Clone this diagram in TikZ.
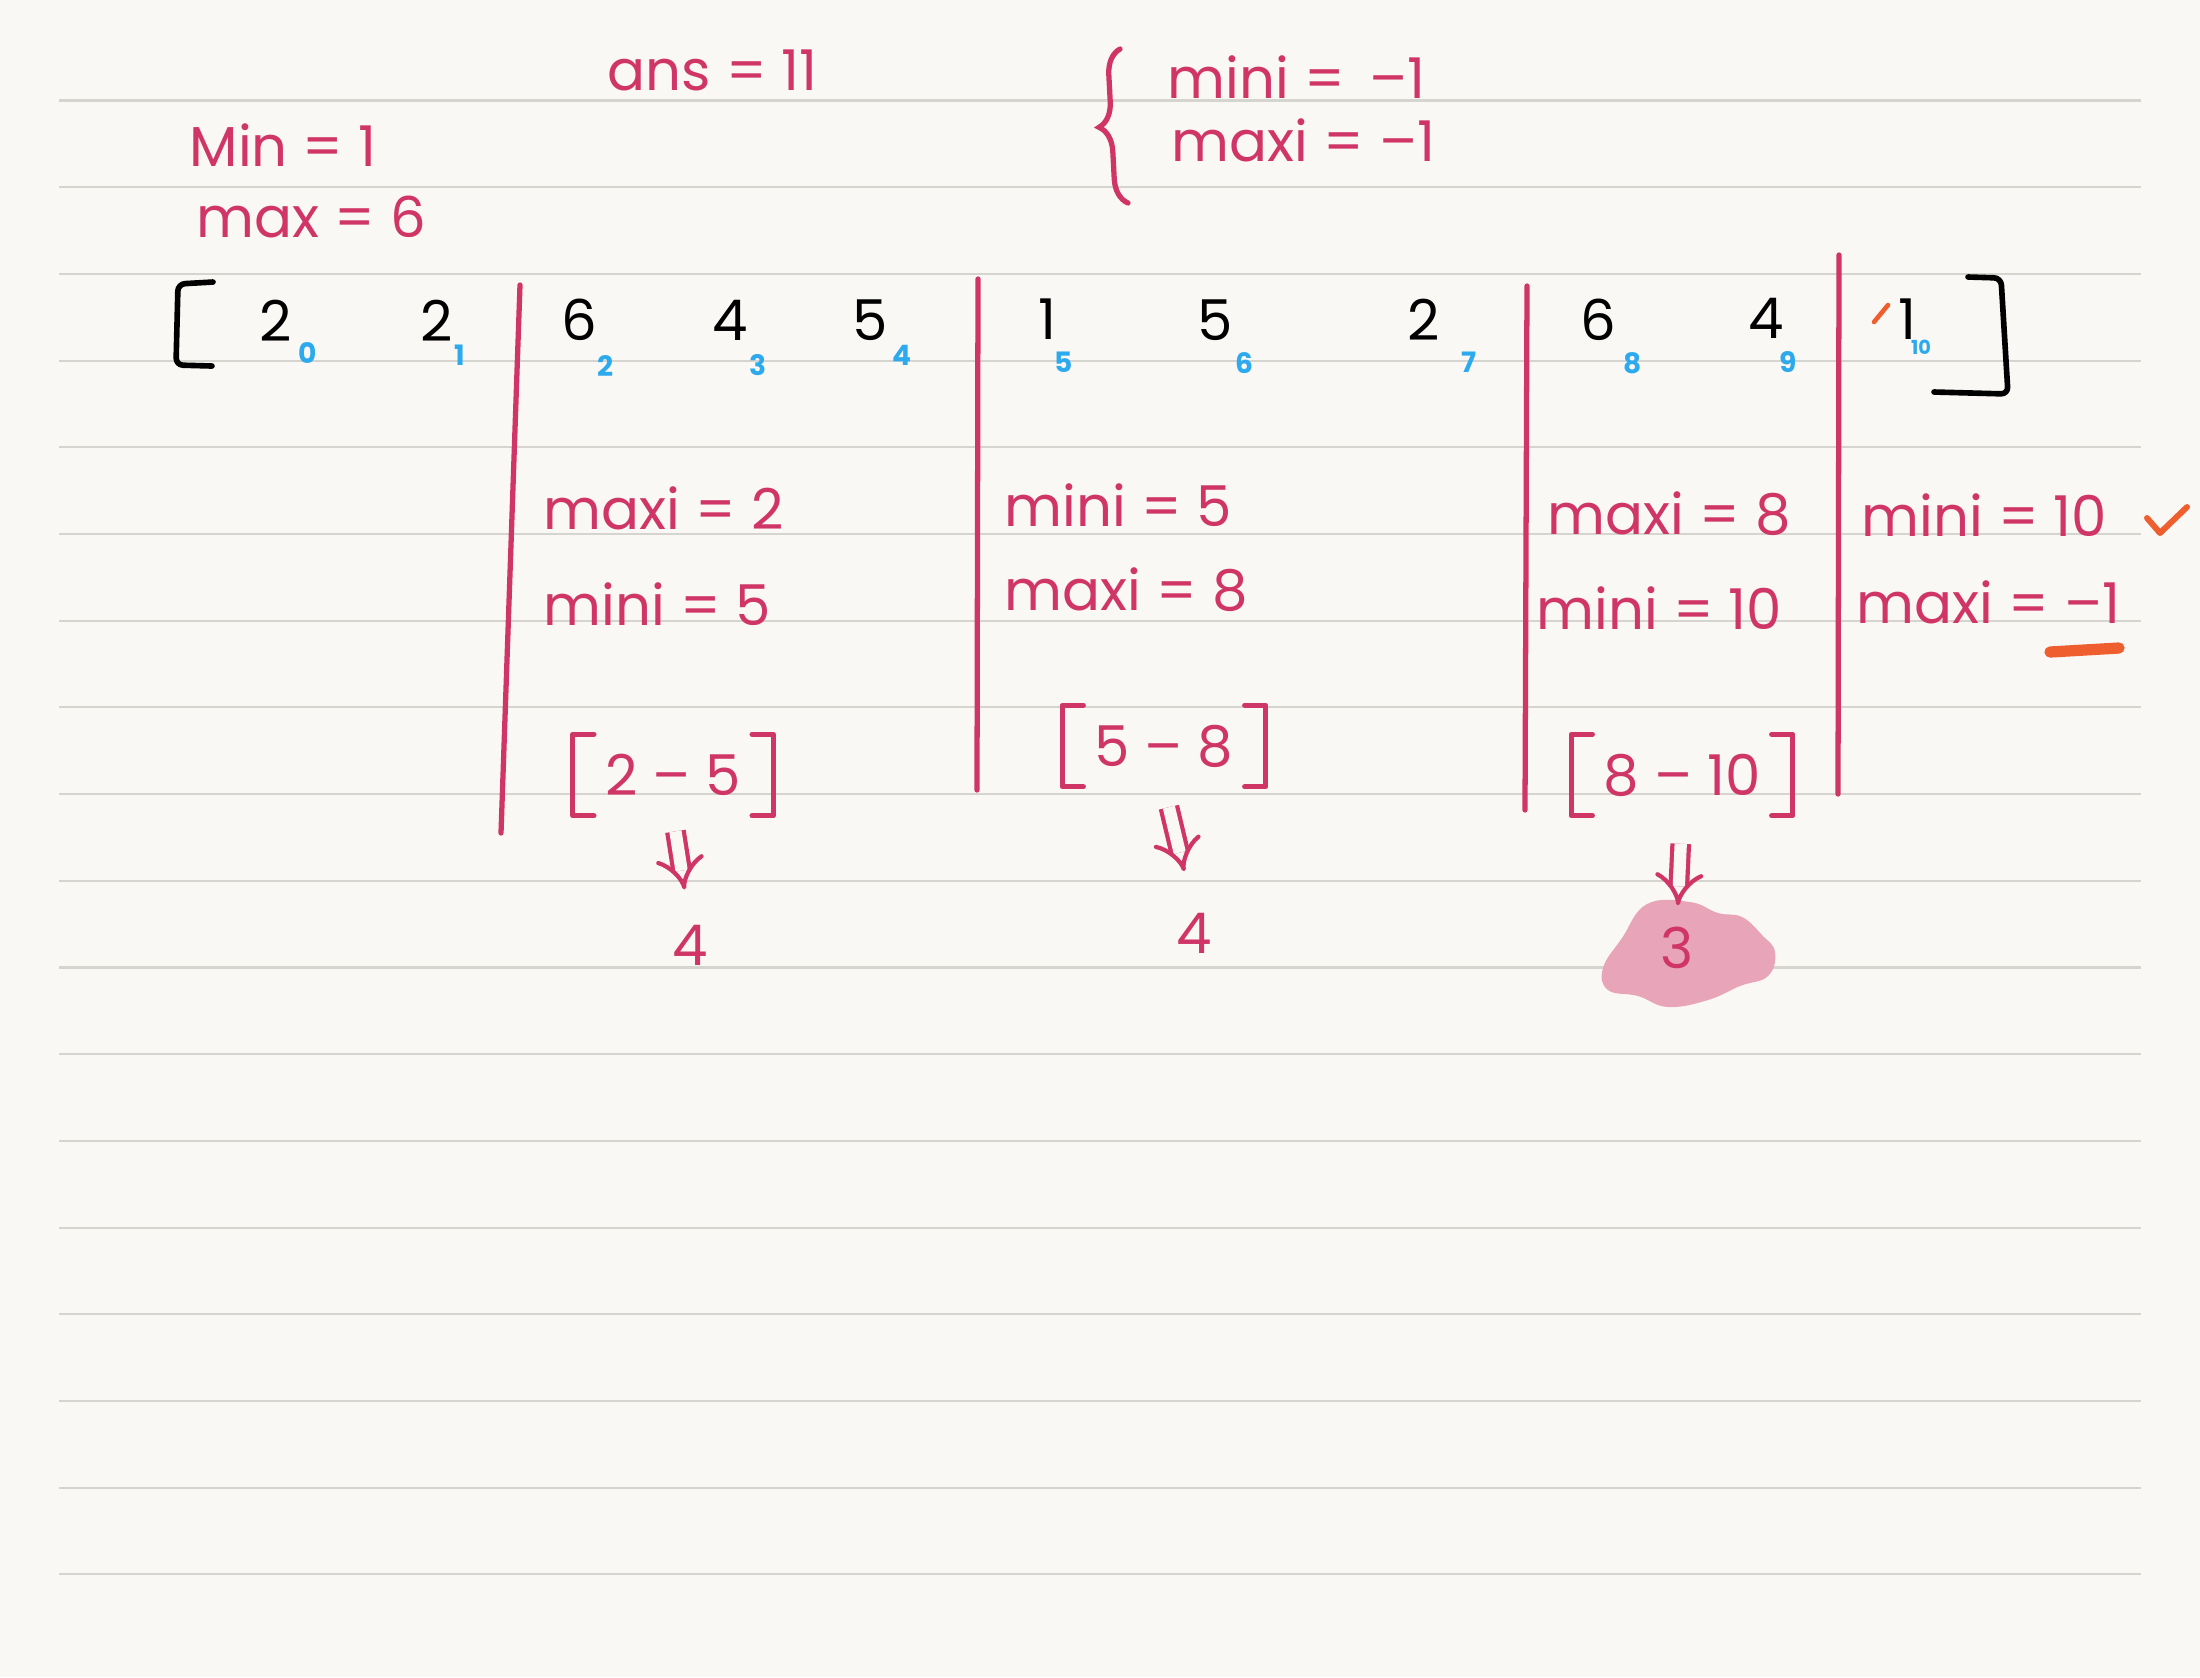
\documentclass[tikz,border=0pt]{standalone}
\usepackage{fontspec}
\setmainfont{Poppins}
\usetikzlibrary{arrows.meta,decorations.pathreplacing}
\definecolor{paper}{HTML}{FAF8F4}
\definecolor{rulec}{HTML}{D6D4CF}
\definecolor{ink}{HTML}{D03568}
\definecolor{blueink}{HTML}{2DA9EE}
\definecolor{orangeink}{HTML}{EE5E2E}
\definecolor{blobc}{HTML}{E8A5BA}
\begin{document}
\begin{tikzpicture}[x=0.1mm,y=-0.1mm,
  pinktext/.style={text=ink, font=\fontsize{16}{18}\selectfont, inner sep=0pt, anchor=west},
  digit/.style={text=black, font=\fontsize{16}{18}\selectfont, inner sep=0pt},
  idx/.style={text=blueink, font=\bfseries\fontsize{8}{9}\selectfont, inner sep=0pt},
  rangebox/.style={text=ink, font=\fontsize{16}{18}\selectfont, inner xsep=9pt, inner ysep=0pt, minimum height=8mm},
  brk/.style={draw=ink, line width=1.5pt, line cap=round, line join=round},
  arrbrk/.style={draw=black, line width=1.6pt, line cap=round, line join=round, rounded corners=2pt},
  divider/.style={draw=ink, line width=1.5pt, line cap=round},
  dbl/.style={draw=ink, line width=1.2pt, double=paper, double distance=3.5pt, -{Implies[scale=1.4]}},
  orangestroke/.style={draw=orangeink, line cap=round, line join=round},
]
\useasboundingbox (0,0) rectangle (2200,1677);
\fill[paper] (0,0) rectangle (2200,1677);
\foreach \k in {0,...,17}
  \draw[rulec, line width=0.6pt] (59,{100.5+86.7*\k}) -- (2141,{100.5+86.7*\k});

% top notes
\node[pinktext] (ans) at (607,70) {ans = 11};
\node[pinktext] (tmini) at (1167,77) {mini = \,–1};
\node[pinktext] (tmaxi) at (1171,140) {maxi = –1};
\node[pinktext] (gmin) at (189,145) {Min = 1};
\node[pinktext] (gmax) at (196,217) {max = 6};
\coordinate (brb) at (1128,203);
\coordinate (brt) at (1120,49);
\draw[draw=ink, line width=1.5pt, line cap=round, decorate, decoration={brace, amplitude=2.5mm}] (brb) -- (brt);

% array
\draw[arrbrk] (213,282) -- (178,284) -- (176,365) -- (212,366);
\draw[arrbrk] (1968,277) -- (2001,278) -- (2008,394) -- (1934,392);
\node[digit] (v0) at (276,321) {2};
\node[digit] (v1) at (437,321) {2};
\node[digit] (v2) at (579,320) {6};
\node[digit] (v3) at (730,320) {4};
\node[digit] (v4) at (870,320) {5};
\node[digit] (v5) at (1047,319) {1};
\node[digit] (v6) at (1215,320) {5};
\node[digit] (v7) at (1424,320) {2};
\node[digit] (v8) at (1598,320) {6};
\node[digit] (v9) at (1766,318) {4};
\node[digit] (v10) at (1907,319) {1};
\node[idx] (i0) at (308,353) {0};
\node[idx] (i1) at (460,355) {1};
\node[idx] (i2) at (606,366) {2};
\node[idx] (i3) at (758,365) {3};
\node[idx] (i4) at (902,355) {4};
\node[idx] (i5) at (1064,362) {5};
\node[idx] (i6) at (1244,363) {6};
\node[idx] (i7) at (1469,362) {7};
\node[idx] (i8) at (1633,363) {8};
\node[idx] (i9) at (1788,362) {9};
\node[idx, font=\bfseries\fontsize{5.5}{6}\selectfont] (i10) at (1921,347) {10};
\draw[orangestroke, line width=1.3pt] (1874,322) -- (1888,305);

% dividers
\draw[divider] (520,285) -- (501,833);
\draw[divider] (978,279) -- (977,790);
\draw[divider] (1527,286) -- (1525,810);
\draw[divider] (1839,255) -- (1838,794);

% section 1
\node[pinktext] (s1a) at (543,508) {maxi = 2};
\node[pinktext] (s1b) at (543,604) {mini = 5};
\node[rangebox] (r1) at (673,775) {2 – 5};
\node[pinktext, anchor=center] (a1) at (690,945) {4};

% section 2
\node[pinktext] (s2a) at (1004,505) {mini = 5};
\node[pinktext] (s2b) at (1004,590) {maxi = 8};
\node[rangebox] (r2) at (1164,746) {5 – 8};
\node[pinktext, anchor=center] (a2) at (1194,933) {4};

% section 3
\node[pinktext] (s3a) at (1547,514) {maxi = 8};
\node[pinktext] (s3b) at (1536,608) {mini = 10};
\node[rangebox] (r3) at (1682,775) {8 – 10};
\fill[blobc] plot[smooth cycle, tension=0.7] coordinates {(1647,904) (1690,902) (1718,913) (1742,917) (1762,935) (1775,952) (1768,976) (1740,986) (1708,1000) (1668,1007) (1638,996) (1608,990) (1603,968) (1622,938)};
\node[pinktext, anchor=center] (a3) at (1677,948) {3};

% section 4
\node[pinktext] (s4a) at (1861,515) {mini = 10};
\node[pinktext] (s4b) at (1856,602) {maxi = –1};
\draw[orangestroke, line width=1.7pt] (2147,518) -- (2160,533) -- (2187,507);
\draw[orangestroke, line width=3.2pt] (2050,652) -- (2119,648);

% brackets around ranges
\foreach \r in {r1,r2,r3}{
  \draw[brk] ([xshift=6pt]\r.north west) -- (\r.north west) -- (\r.south west) -- ([xshift=6pt]\r.south west);
  \draw[brk] ([xshift=-6pt]\r.north east) -- (\r.north east) -- (\r.south east) -- ([xshift=-6pt]\r.south east);
}

% arrows
\draw[dbl, shorten <=4.5pt, shorten >=10pt] (r1.south) -- (a1.north);
\draw[dbl, shorten <=6pt, shorten >=12pt] (r2.south) -- (a2.north);
\draw[dbl, shorten <=8pt, shorten >=6pt] (r3.south) -- (a3.north);
\end{tikzpicture}
\end{document}
